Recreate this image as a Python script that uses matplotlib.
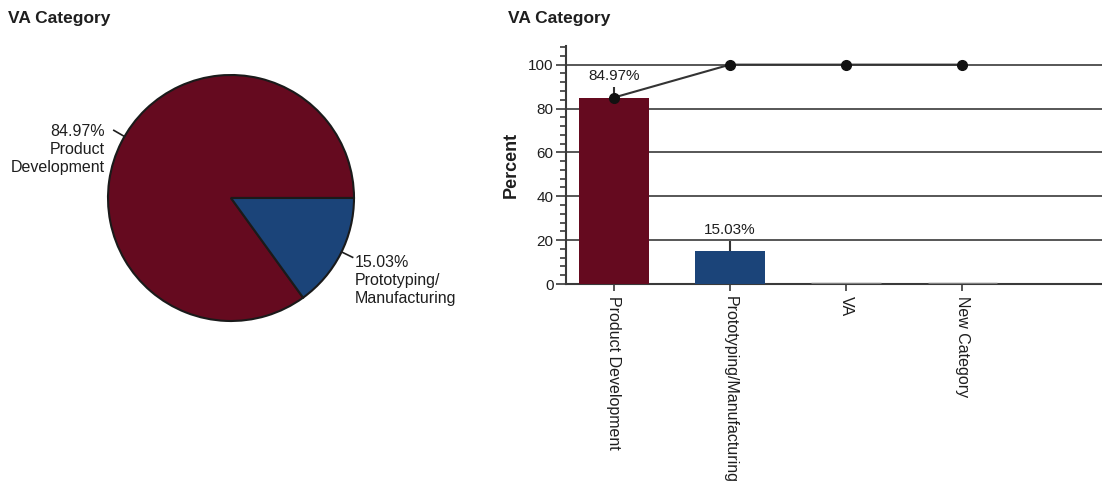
import matplotlib
matplotlib.use("Agg")
import matplotlib.pyplot as plt
import numpy as np

plt.rcParams['font.family'] = ['Liberation Sans', 'DejaVu Sans']

# --- data ---
pie_labels = ["Product\nDevelopment", "Prototyping/\nManufacturing"]
pie_values = [84.97, 15.03]
pie_colors = ["#650A1F", "#1B4479"]

bar_categories = ["Product Development", "Prototyping/Manufacturing", "VA", "New Category"]
bar_values = [84.97, 15.03, 0.0, 0.0]
bar_errors = [4.7, 4.6, 0.0, 0.0]
bar_colors = ["#650A1F", "#1B4479", "#808080", "#808080"]
y_ticks = [0, 20, 40, 60, 80, 100]

title = "VA Category"
ink = "#1e1e1e"

fig = plt.figure(figsize=(11.02, 4.92), dpi=100)
W, H = 1102, 492

# --- pie ---
cx, cy, r = 231, 198, 123
ax_pie = fig.add_axes([(cx - r) / W, 1 - (cy + r) / H, 2 * r / W, 2 * r / H])
ax_pie.pie(pie_values, colors=pie_colors, startangle=0, counterclock=True,
           wedgeprops=dict(edgecolor="#1a1a1a", linewidth=1.5))
ax_pie.set_xlim(-1, 1)
ax_pie.set_ylim(-1, 1)
ax_pie.set_aspect("auto")

# labels with short leader lines
leader_angles = [150, -26]
for i, (val, lab) in enumerate(zip(pie_values, pie_labels)):
    ang = np.deg2rad(leader_angles[i])
    p0 = np.array([np.cos(ang), np.sin(ang)])
    p1 = p0 * 1.10
    ax_pie.plot([p0[0], p1[0]], [p0[1], p1[1]], color=ink, lw=1.2, clip_on=False)
    if i == 0:
        ax_pie.text(p1[0] - 0.07, p1[1] + 0.05, f"{val:.2f}%\n{lab}", ha="right", va="top",
                    fontsize=11.5, color=ink, linespacing=1.25)
    else:
        ax_pie.text(p1[0] + 0.02, p1[1] + 0.02, f"{val:.2f}%\n{lab}", ha="left", va="top",
                    fontsize=11.5, color=ink, linespacing=1.25)

fig.text(8 / W, 1 - 18 / H, title, ha="left", va="center", fontsize=12.5,
         fontweight="bold", color=ink)
fig.text(508 / W, 1 - 18 / H, title, ha="left", va="center", fontsize=12.5,
         fontweight="bold", color=ink)

# --- pareto bars ---
ax = fig.add_axes([566 / W, 1 - 284 / H, 1 - 566 / W, (284 - 46) / H])
x = np.arange(len(bar_categories))
ax.set_xlim(-0.41, 4.2)
ax.set_ylim(0, 108.5)

ax.set_axisbelow(True)
ax.yaxis.grid(True, color="#3a3a3a", lw=1.2)
ax.set_yticks(y_ticks)
ax.set_yticks(np.arange(0, 109, 4), minor=True)

ax.errorbar(x[:2], bar_values[:2], yerr=[np.zeros(2), bar_errors[:2]], fmt="none",
            ecolor="#333333", elinewidth=1.5, capsize=0, zorder=1)
ax.bar(x, bar_values, width=0.6, color=bar_colors,
       edgecolor=["none", "none", "#808080", "#808080"], linewidth=[0, 0, 2.5, 2.5], zorder=3)

for xi, v, e in zip(x[:2], bar_values[:2], bar_errors[:2]):
    ax.annotate(f"{v:.2f}%", (xi, v + e), xytext=(0, 3), textcoords="offset points",
                ha="center", va="bottom", fontsize=11, color=ink)

cumulative = np.cumsum(bar_values)
ax.plot(x, cumulative, color="#333333", lw=1.5, marker="o", markersize=7,
        markerfacecolor="#111111", markeredgecolor="#111111", zorder=4, clip_on=False)

for s in ["top", "right"]:
    ax.spines[s].set_visible(False)
ax.spines["left"].set_color("#3a3a3a")
ax.spines["left"].set_linewidth(1.5)
ax.spines["bottom"].set_color("#3a3a3a")
ax.spines["bottom"].set_linewidth(1.5)

ax.set_xticks(x)
ax.set_xticklabels(bar_categories, rotation=270, fontsize=11.5, color=ink, va="top", ha="center")
ax.tick_params(axis="x", length=5, width=1.2, color="#3a3a3a", pad=4)
ax.tick_params(axis="y", which="major", length=7, width=1.2, color="#3a3a3a",
               labelsize=11, labelcolor=ink, pad=2)
ax.tick_params(axis="y", which="minor", length=4, width=1.2, color="#3a3a3a")
ax.set_ylabel("Percent", fontsize=13, fontweight="bold", color=ink, labelpad=6)

fig.savefig("out.png", dpi=100, facecolor="white")
